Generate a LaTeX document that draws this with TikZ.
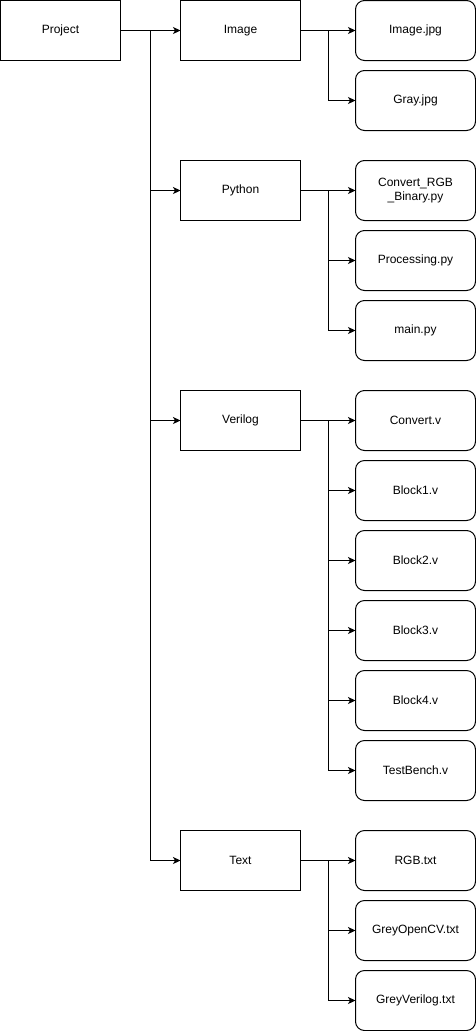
\documentclass[tikz,border=0pt]{standalone}
\usepackage{fontspec}
\setmainfont{Liberation Sans}
\usetikzlibrary{arrows.meta}
\begin{document}
\begin{tikzpicture}[x=1pt,y=1pt,
  sqbox/.style={draw,line width=1pt,minimum width=120pt,minimum height=60pt,inner sep=0pt,outer sep=0pt,font=\fontsize{12}{14}\selectfont,align=center},
  rbox/.style={sqbox,rounded corners=9pt},
  conn/.style={draw,line width=1pt,-{Stealth[length=7.5pt,width=7pt,inset=2pt]}},
  thickconn/.style={conn,line width=1.6pt}]
\useasboundingbox (0,0) rectangle (476,-1031);
\node[sqbox] (project) at (60.5,-30.5) {Project};
\node[sqbox] (image) at (240.5,-30.5) {Image};
\node[sqbox] (python) at (240.5,-190.5) {Python};
\node[sqbox] (verilog) at (240.5,-420.5) {Verilog};
\node[sqbox] (text) at (240.5,-860.5) {Text};
\node[rbox] (imagejpg) at (415.5,-30.5) {Image.jpg};
\node[rbox] (grayjpg) at (415.5,-100.5) {Gray.jpg};
\node[rbox] (convpy) at (415.5,-190.5) {Convert\_RGB\\\_Binary.py};
\node[rbox] (procpy) at (415.5,-260.5) {Processing.py};
\node[rbox] (mainpy) at (415.5,-330.5) {main.py};
\node[rbox] (convv) at (415.5,-420.5) {Convert.v};
\node[rbox] (b1) at (415.5,-490.5) {Block1.v};
\node[rbox] (b2) at (415.5,-560.5) {Block2.v};
\node[rbox] (b3) at (415.5,-630.5) {Block3.v};
\node[rbox] (b4) at (415.5,-700.5) {Block4.v};
\node[rbox] (tb) at (415.5,-770.5) {TestBench.v};
\node[rbox] (rgb) at (415.5,-860.5) {RGB.txt};
\node[rbox] (gocv) at (415.5,-930.5) {GreyOpenCV.txt};
\node[rbox] (gver) at (415.5,-1000.5) {GreyVerilog.txt};
\foreach \c in {image,python,verilog,text}
  \draw[conn] (project.east) -- ++(30,0) |- (\c.west);
\foreach \c in {imagejpg,grayjpg}
  \draw[conn] (image.east) -- ++(28,0) |- (\c.west);
\foreach \c in {convpy,procpy,mainpy}
  \draw[conn] (python.east) -- ++(28,0) |- (\c.west);
\foreach \c in {convv,b1,b2,b3,b4,tb}
  \draw[conn] (verilog.east) -- ++(28,0) |- (\c.west);
\draw[line width=1.2pt] ([xshift=28pt]verilog.east) -- ([xshift=-27pt]tb.west);
\foreach \c in {rgb,gocv,gver}
  \draw[conn] (text.east) -- ++(28,0) |- (\c.west);
\end{tikzpicture}
\end{document}
